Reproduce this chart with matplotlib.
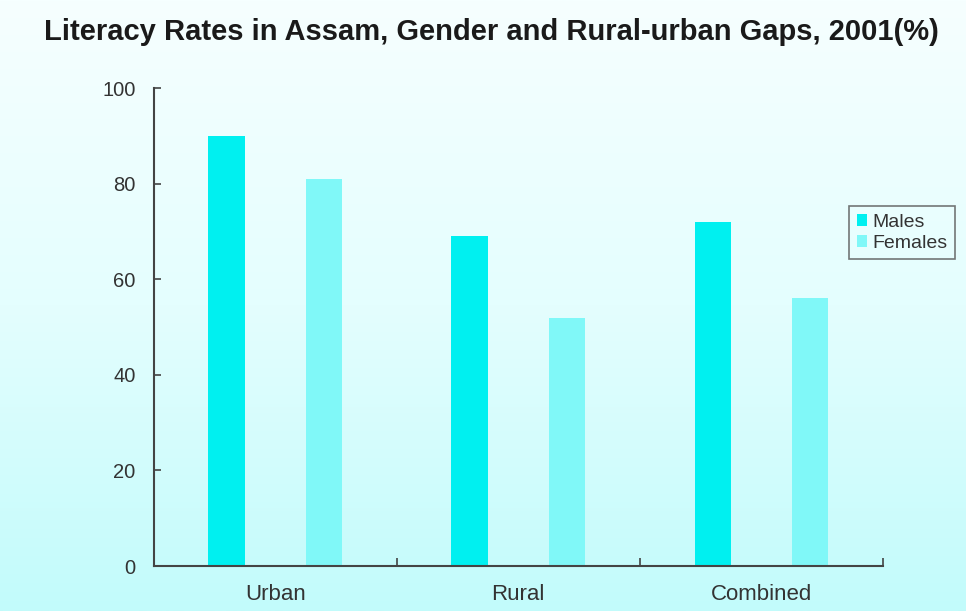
import numpy as np
import matplotlib
matplotlib.use("Agg")
import matplotlib.pyplot as plt
from matplotlib.colors import LinearSegmentedColormap

categories = ["Urban", "Rural", "Combined"]
males = [90, 69, 72]
females = [81, 52, 56]
series_names = ["Males", "Females"]

plt.rcParams['font.family'] = ['Liberation Sans', 'DejaVu Sans']

fig = plt.figure(figsize=(9.66, 6.11), dpi=100)

# gradient background
bg = fig.add_axes([0, 0, 1, 1], zorder=-10)
cmap = LinearSegmentedColormap.from_list("bg", ["#f6ffff", "#e4fefe", "#c2fbfb"])
grad = np.linspace(0, 1, 256).reshape(-1, 1)
bg.imshow(grad, aspect="auto", cmap=cmap, extent=[0, 1, 0, 1], origin="upper")
bg.axis("off")

ax = fig.add_axes([0.159, 0.0736, 0.755, 0.782])
ax.patch.set_alpha(0)

x = np.arange(len(categories))
w = 0.15
ax.bar(x - 0.2, males, w, color="#00f0f0", label=series_names[0])
ax.bar(x + 0.2, females, w, color="#80f8f8", label=series_names[1])

ax.set_xlim(-0.5, 2.5)
ax.set_ylim(0, 100)
ax.set_yticks([0, 20, 40, 60, 80, 100])
ax.set_xticks(x)
ax.set_xticklabels(categories)
ax.set_xticks([0.5, 1.5, 2.5], minor=True)
ax.tick_params(axis="x", which="major", length=0, pad=13, labelsize=16, colors="#333333")
ax.tick_params(axis="x", which="minor", direction="in", length=6, width=1.2, color="#444444")
ax.tick_params(axis="y", direction="in", length=5, width=1.2, color="#444444", labelsize=14.5,
               labelcolor="#333333", pad=13)
for s in ["top", "right"]:
    ax.spines[s].set_visible(False)
for s in ["left", "bottom"]:
    ax.spines[s].set_color("#444444")
    ax.spines[s].set_linewidth(1.5)

leg = fig.legend(loc="upper left", bbox_to_anchor=(0.879, 0.663), frameon=True, fancybox=False,
                 fontsize=14, handlelength=0.5, handleheight=0.6, handletextpad=0.3,
                 borderpad=0.4, labelspacing=0.2, borderaxespad=0)
leg.get_frame().set_edgecolor("#555555")
leg.get_frame().set_facecolor("none")
leg.get_frame().set_linewidth(1.2)
for t in leg.get_texts():
    t.set_color("#333333")

fig.text(0.509, 0.948, "Literacy Rates in Assam, Gender and Rural-urban Gaps, 2001(%)",
         ha="center", va="center", fontsize=21, fontweight="bold", color="#1a1a1a")

fig.savefig("out.png", dpi=100)
